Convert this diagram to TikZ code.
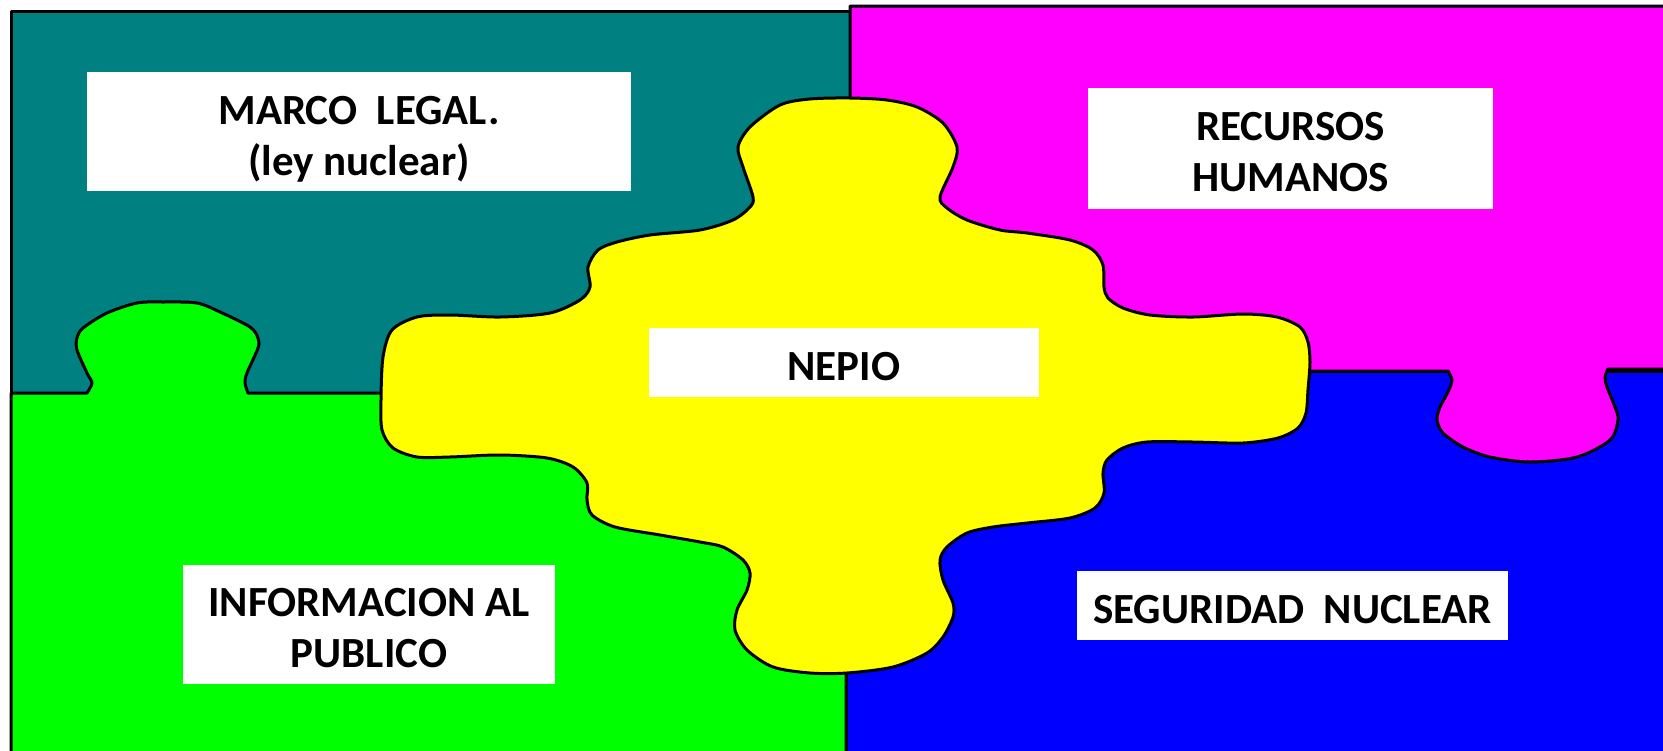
\documentclass[tikz,border=0pt]{standalone}
\usepackage{fontspec}
\setmainfont{Carlito}
\usepackage{tikz}

\begin{document}
\begin{tikzpicture}[x=1pt, y=-1pt, line join=round,
        piece_style/.style={draw=black, line width=3pt},
        box_style/.style={fill=white, inner sep=0pt},
        text_style/.style={inner sep=0pt, align=center, yshift=-4pt, font=\bfseries\fontsize{43}{51}\selectfont}]

        \useasboundingbox (0,0) rectangle (1663,750);
        \clip (0,0) rectangle (1663,750);

        % teal piece
        \draw [piece_style, fill={rgb,255:red,0;green,128;blue,128}] (11,11) -- (850,11) -- (850,400) -- (11,400) -- cycle;

        % blue piece
        \draw [piece_style, fill={rgb,255:red,0;green,0;blue,255}] (846,371) rectangle (1700,780);

        % green piece with its tab
        \draw [piece_style, fill={rgb,255:red,0;green,255;blue,0}] (11,393) -- (87,393)
            -- plot[smooth, tension=0.5] coordinates {(87,393) (92,383) (87,373) (77,350) (77,338) (83,328) (107,313) (137,303) (163,302) (197,303) (220,312) (250,327) (258,338) (258,348) (247,373) (245,383) (248,393)}
            -- (846,393) -- (846,780) -- (11,780) -- cycle;

        % magenta piece with its tab
        \draw [piece_style, fill={rgb,255:red,255;green,0;blue,255}] (850,6) -- (1700,6) -- (1700,369) -- (1608,369)
            -- plot[smooth, tension=0.5] coordinates {(1608,369) (1605,377) (1607,387) (1615,407) (1618,420) (1610,440) (1577,457) (1530,462) (1490,457) (1463,447) (1443,433) (1437,420) (1440,407) (1448,392) (1452,380) (1448,371)}
            -- (850,371) -- cycle;

        % yellow piece
        \draw [piece_style, fill={rgb,255:red,255;green,255;blue,0}] plot[smooth cycle, tension=0.5] coordinates {
            (850,98) (887,100) (917,107) (943,123) (957,147) (953,167) (940,197) (947,208) (967,220) (1000,230)
            (1027,233) (1070,240) (1093,250) (1103,265) (1104,287) (1108,298) (1123,308) (1150,315) (1193,317) (1243,314)
            (1277,317) (1300,327) (1308,342) (1310,362) (1308,390) (1306,413) (1298,428) (1278,438) (1243,443) (1193,442)
            (1147,442) (1123,448) (1107,460) (1103,473) (1104,493) (1095,508) (1070,518) (1027,523) (993,527) (967,533)
            (947,547) (940,560) (943,580) (953,603) (953,617) (943,637) (927,653) (893,667) (847,673) (810,673)
            (773,667) (747,650) (735,630) (737,610) (747,590) (750,573) (743,560) (723,547) (700,542) (660,535)
            (615,527) (592,515) (587,500) (587,483) (573,467) (547,458) (500,455) (450,457) (417,457) (393,448)
            (382,430) (381,400) (383,357) (392,330) (417,317) (450,315) (500,317) (550,313) (580,300) (590,287)
            (588,267) (598,250) (617,242) (650,235) (700,230) (733,220) (750,207) (753,197) (743,167) (738,147)
            (750,127) (780,105) (810,99)};

        \node [box_style, minimum width=544pt, minimum height=119pt, label={[text_style, yshift=-4pt]center:{MARCO\ \ LEGAL.\\(ley nuclear)}}] (marco) at (359,131.5) {};

        \node [box_style, minimum width=405pt, minimum height=121pt, label={[text_style]center:{RECURSOS\\HUMANOS}}] (recursos) at (1290.5,148.5) {};

        \node [box_style, minimum width=390pt, minimum height=69pt, label={[text_style]center:{NEPIO}}] (nepio) at (844,362.5) {};

        \node [box_style, minimum width=372pt, minimum height=119pt, label={[text_style]center:{INFORMACION AL\\PUBLICO}}] (informacion) at (369,624.5) {};

        \node [box_style, minimum width=431pt, minimum height=69pt, label={[text_style]center:{SEGURIDAD\ \ NUCLEAR}}] (seguridad) at (1292.5,605.5) {};

\end{tikzpicture}
\end{document}
